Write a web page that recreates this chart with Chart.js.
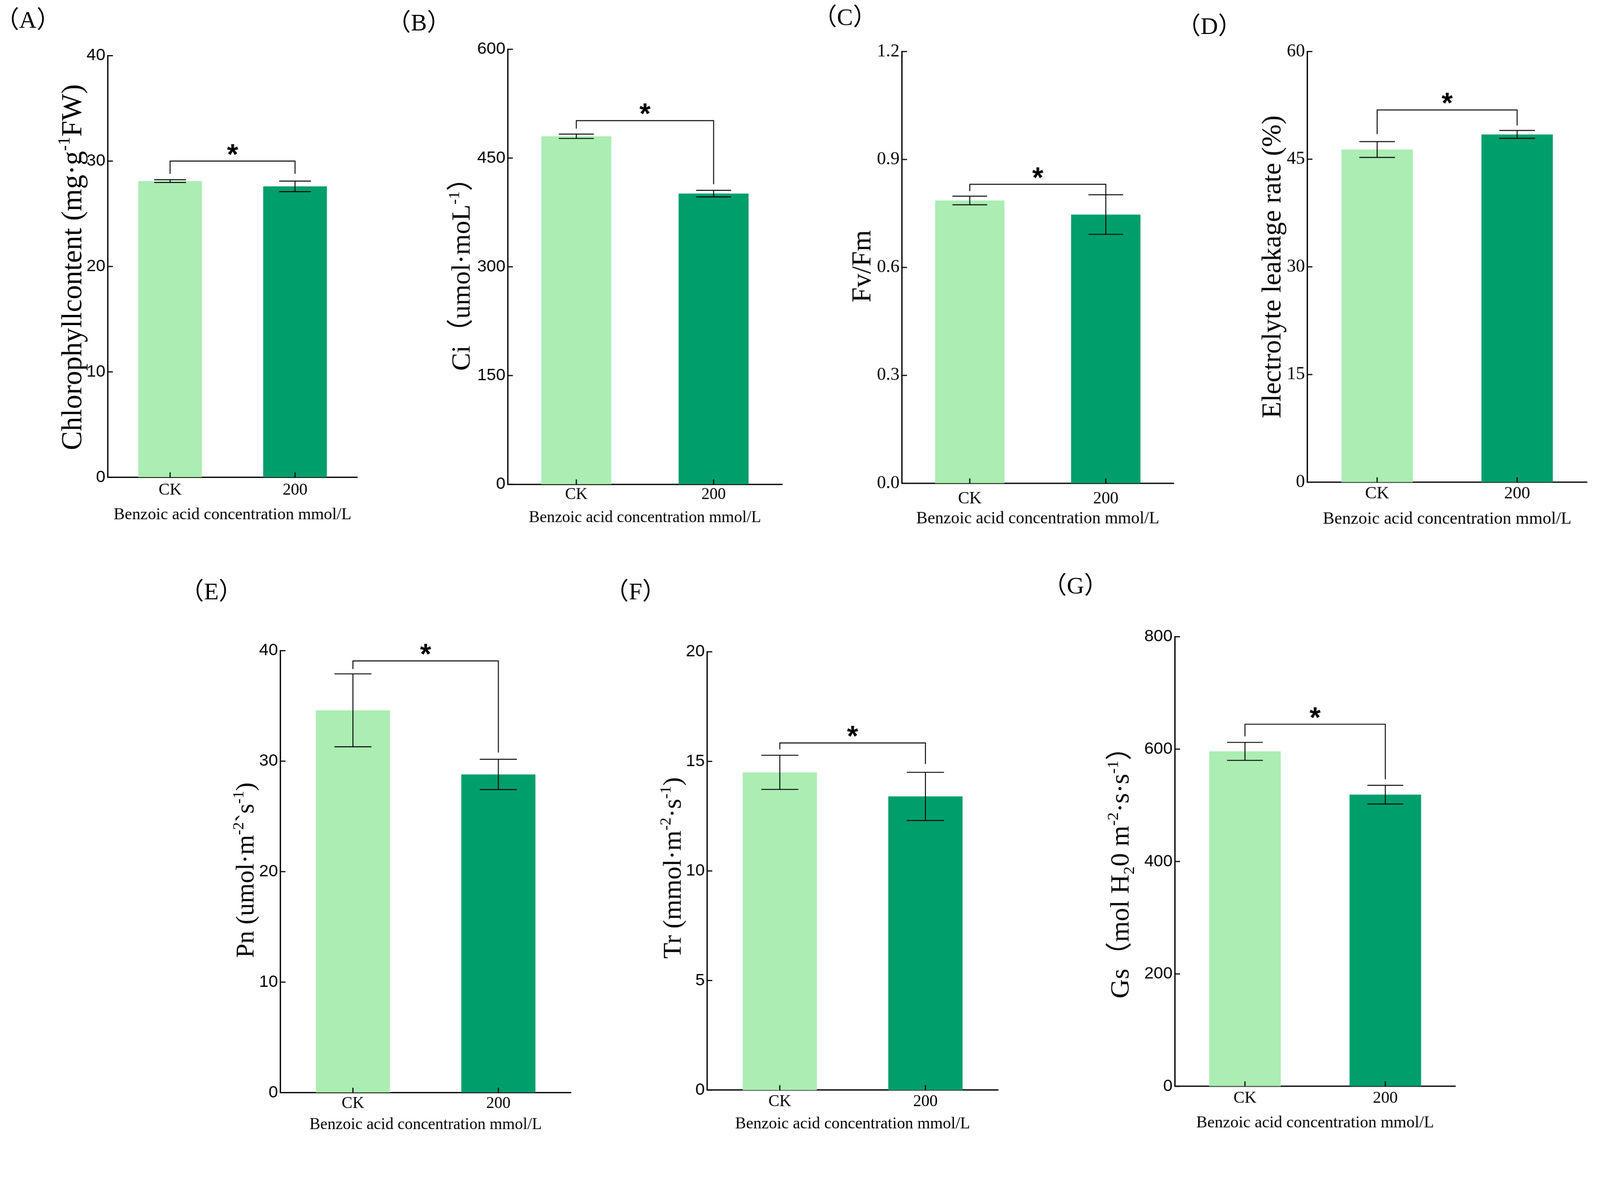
<!DOCTYPE html>
<html>
<head>
<meta charset="utf-8">
<script src="https://cdn.jsdelivr.net/npm/chart.js@4.4.1/dist/chart.umd.min.js"></script>
<style>
  html,body{margin:0;padding:0;background:#fff;overflow:hidden;}
  #stage{position:absolute;left:0;top:0;width:4255px;height:3033px;transform-origin:0 0;background:#fff;}
  canvas{position:absolute;}
  .plabel{position:absolute;transform:translate(-50%,-50%);font-family:'Liberation Serif','Noto Sans CJK SC',serif;font-size:64px;color:#000;white-space:nowrap;line-height:1;}
</style>
</head>
<body>
<div id="stage"></div>
<script>
// ---------------- DATA ----------------
const categories = ['CK', '200'];

const chlorophyll = [28.1, 27.6];
const chlorophyllErr = [0.13, 0.5];
const chlorophyllBracket = [30.0, 28.8, 28.8];   // bar level, left end, right end

const ci = [480, 401];
const ciErr = [3, 4.5];
const ciBracket = [501.6, 490.6, 413.8];

const fvfm = [0.786, 0.747];
const fvfmErr = [0.012, 0.055];
const fvfmBracket = [0.831, 0.812, 0.802];

const electrolyte = [46.35, 48.45];
const electrolyteErr = [1.1, 0.55];
const electrolyteBracket = [51.86, 48.5, 49.7];

const pn = [34.6, 28.8];
const pnErr = [3.3, 1.37];
const pnBracket = [39.07, 38.34, 30.78];

const tr = [14.5, 13.4];
const trErr = [0.78, 1.1];
const trBracket = [15.84, 15.55, 14.88];

const gs = [596, 519];
const gsErr = [16, 16.6];
const gsBracket = [644.3, 622.7, 546.2];

const yMax = [40, 600, 1.2, 60, 40, 20, 800];
const yStep = [10, 150, 0.3, 15, 10, 5, 200];
const tickDecimals = [0, 0, 1, 0, 0, 0, 0];

const panelLabels = ['（A）', '（B）', '（C）', '（D）', '（E）', '（F）', '（G）'];
const xTitle = 'Benzoic acid concentration mmol/L';
const significance = '*';

const yTitles = [
  [{t:'Chlorophyllcontent (mg·g'}, {t:'-1', sup:true}, {t:'FW)'}],
  [{t:'Ci（umol·moL'}, {t:'-1', sup:true}, {t:'）'}],
  [{t:'Fv/Fm'}],
  [{t:'Electrolyte leakage rate (%)'}],
  [{t:'Pn (umol·m'}, {t:'-2', sup:true}, {t:'`s'}, {t:'-1', sup:true}, {t:')'}],
  [{t:'Tr (mmol·m'}, {t:'-2', sup:true}, {t:'·s'}, {t:'-1', sup:true}, {t:')'}],
  [{t:'Gs（mol H'}, {t:'2', sub:true}, {t:'0 m'}, {t:'-2', sup:true}, {t:'·s·s'}, {t:'-1', sup:true}, {t:'）'}]
];

const seriesValues = [chlorophyll, ci, fvfm, electrolyte, pn, tr, gs];
const seriesErrors = [chlorophyllErr, ciErr, fvfmErr, electrolyteErr, pnErr, trErr, gsErr];
const seriesBrackets = [chlorophyllBracket, ciBracket, fvfmBracket, electrolyteBracket, pnBracket, trBracket, gsBracket];

// ---------------- LAYOUT / STYLE ----------------
const barColors = ['#abedb3', '#009e6b'];
const SERIF = "'Liberation Serif','Noto Sans CJK SC',serif";
const SANS = "'Liberation Sans',Arial,sans-serif";

const layout = [
  {x0:286,  x1:950,  yT:148,  yB:1269, tOff:96,  tDy:2,  tSize:76, lab:35, xt:100, xf:44,   serif:false},
  {x0:1350, x1:2080, yT:131,  yB:1287, tOff:125, tDy:2,  tSize:71, lab:28, xt:89,  xf:43,   serif:false},
  {x0:2398, x1:3121, yT:137,  yB:1285, tOff:108, tDy:-3, tSize:72, lab:42, xt:95,  xf:45,   serif:true},
  {x0:3476, x1:4220, yT:137,  yB:1282, tOff:95,  tDy:0,  tSize:72, lab:31, xt:98,  xf:46,   serif:true},
  {x0:745,  x1:1518, yT:1730, yB:2905, tOff:94,  tDy:-4, tSize:68, lab:30, xt:86,  xf:43,   serif:false},
  {x0:1880, x1:2654, yT:1733, yB:2898, tOff:93,  tDy:-8, tSize:69, lab:31, xt:90,  xf:43.5, serif:false},
  {x0:3124, x1:3870, yT:1693, yB:2888, tOff:147, tDy:12, tSize:71, lab:32, xt:98,  xf:44,   serif:false}
];
const labelPos = [[74,53],[1114,60],[2247,46],[3216,69],[562,1573],[1690,1573],[2860,1557]];

const PAD_L = 60, Y_W = 200, PAD_T = 40, PAD_R = 20, X_H = 140, PAD_B = 10;

// fit the 4255-wide design to the actual viewport width
const stage = document.getElementById('stage');
const K = (window.innerWidth || 4255) / 4255;
stage.style.transform = 'scale(' + K + ')';
document.body.style.width = (4255 * K) + 'px';
document.body.style.height = (3033 * K) + 'px';
const DPR = K * (window.devicePixelRatio || 1);

// ---------------- PLUGINS ----------------
const extrasPlugin = {
  id: 'extras',
  afterDraw(chart, args, opts) {
    const ctx = chart.ctx;
    const xs = chart.scales.x, ys = chart.scales.y;
    const area = chart.chartArea;
    const idx = opts.idx;
    const L = layout[idx];
    const meta = chart.getDatasetMeta(0);
    const vals = seriesValues[idx], errs = seriesErrors[idx], br = seriesBrackets[idx];

    ctx.save();
    ctx.strokeStyle = '#000';
    ctx.lineCap = 'butt';

    // inward tick marks on y
    ctx.lineWidth = 3;
    ys.ticks.forEach(t => {
      const py = ys.getPixelForValue(t.value);
      ctx.beginPath(); ctx.moveTo(area.left, py); ctx.lineTo(area.left + 14, py); ctx.stroke();
    });
    // inward tick marks on x
    categories.forEach((c, i) => {
      const px = xs.getPixelForValue(i);
      ctx.beginPath(); ctx.moveTo(px, area.bottom); ctx.lineTo(px, area.bottom - 13); ctx.stroke();
    });

    // error bars
    ctx.lineWidth = 2.5;
    vals.forEach((v, i) => {
      const px = xs.getPixelForValue(i);
      const bw = meta.data[i].width;
      const hw = bw / 4;
      const top = ys.getPixelForValue(v + errs[i]);
      const bot = ys.getPixelForValue(v - errs[i]);
      ctx.beginPath();
      ctx.moveTo(px, top); ctx.lineTo(px, bot);
      ctx.moveTo(px - hw, top); ctx.lineTo(px + hw, top);
      ctx.moveTo(px - hw, bot); ctx.lineTo(px + hw, bot);
      ctx.stroke();
    });

    // significance bracket
    const xa = xs.getPixelForValue(0), xb = xs.getPixelForValue(1);
    const yb = ys.getPixelForValue(br[0]);
    ctx.beginPath();
    ctx.moveTo(xa, ys.getPixelForValue(br[1]));
    ctx.lineTo(xa, yb);
    ctx.lineTo(xb, yb);
    ctx.lineTo(xb, ys.getPixelForValue(br[2]));
    ctx.stroke();

    // star
    ctx.fillStyle = '#000';
    ctx.font = 'bold 76px ' + SANS;
    ctx.textAlign = 'center';
    ctx.textBaseline = 'alphabetic';
    const m = ctx.measureText(significance);
    const cy = yb - 30;
    ctx.fillText(significance, (xa + xb) / 2, cy + (m.actualBoundingBoxAscent - m.actualBoundingBoxDescent) / 2);

    // y-axis title (rich text)
    const segs = yTitles[idx];
    const size = L.tSize;
    const cx = area.left - L.tOff;
    const cyT = (area.top + area.bottom) / 2 + L.tDy;
    ctx.translate(cx, cyT);
    ctx.rotate(-Math.PI / 2);
    ctx.textAlign = 'left';
    let total = 0;
    const parts = segs.map(s => {
      const fs = (s.sup || s.sub) ? size * 0.6 : size;
      ctx.font = fs + 'px ' + SERIF;
      const w = ctx.measureText(s.t).width;
      total += w;
      return {s, fs, w};
    });
    let x = -total / 2;
    const base = size * 0.34;
    parts.forEach(p => {
      ctx.font = p.fs + 'px ' + SERIF;
      const dy = p.s.sup ? -size * 0.4 : (p.s.sub ? size * 0.2 : 0);
      ctx.fillText(p.s.t, x, base + dy);
      x += p.w;
    });
    ctx.restore();
  }
};

// ---------------- BUILD ----------------
layout.forEach((L, idx) => {
  const cv = document.createElement('canvas');
  const left = L.x0 - PAD_L - Y_W;
  const top = L.yT - PAD_T;
  const w = (L.x1 + PAD_R) - left;
  const h = (L.yB + X_H + PAD_B) - top;
  cv.style.left = left + 'px'; cv.style.top = top + 'px';
  cv.style.width = w + 'px'; cv.style.height = h + 'px';
  cv.width = w; cv.height = h;
  stage.appendChild(cv);

  const xLine = L.xf * 1.2;
  new Chart(cv, {
    type: 'bar',
    data: {
      labels: categories,
      datasets: [{
        data: seriesValues[idx],
        backgroundColor: barColors,
        borderWidth: 0,
        barPercentage: 0.51,
        categoryPercentage: 1.0
      }]
    },
    options: {
      responsive: false,
      devicePixelRatio: DPR,
      animation: false,
      layout: {padding: {left: PAD_L, top: PAD_T, right: PAD_R, bottom: PAD_B}},
      plugins: {
        legend: {display: false},
        tooltip: {enabled: false},
        extras: {idx: idx}
      },
      scales: {
        x: {
          type: 'category',
          offset: true,
          grid: {display: false, drawTicks: false},
          border: {display: true, color: '#000', width: 3.5},
          ticks: {
            color: '#000',
            font: {family: SERIF, size: L.xf},
            padding: L.lab - xLine / 2,
            maxRotation: 0
          },
          title: {
            display: true,
            text: xTitle,
            color: '#000',
            font: {family: SERIF, size: L.xf},
            padding: {top: 0, bottom: X_H - xLine / 2 - L.xt}
          },
          afterFit(s) { s.height = X_H; }
        },
        y: {
          type: 'linear',
          min: 0,
          max: yMax[idx],
          grid: {display: false, drawTicks: false},
          border: {display: true, color: '#000', width: 3.5},
          ticks: {
            stepSize: yStep[idx],
            color: '#000',
            padding: 6,
            font: {family: L.serif ? SERIF : SANS, size: L.serif ? 48 : 45},
            callback: (v) => Number(v).toFixed(tickDecimals[idx])
          },
          afterFit(s) { s.width = Y_W; }
        }
      }
    },
    plugins: [extrasPlugin]
  });

  const lab = document.createElement('div');
  lab.className = 'plabel';
  lab.textContent = panelLabels[idx];
  lab.style.left = labelPos[idx][0] + 'px';
  lab.style.top = labelPos[idx][1] + 'px';
  stage.appendChild(lab);
});
</script>
</body>
</html>
